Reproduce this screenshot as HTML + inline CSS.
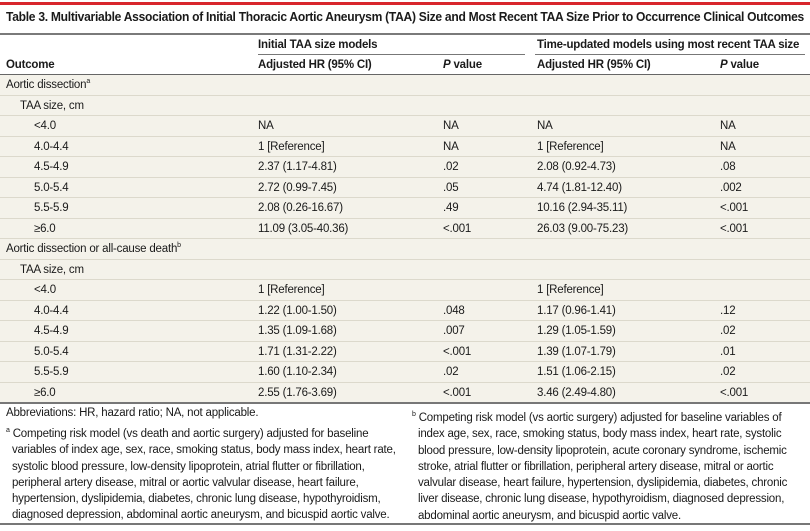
<!DOCTYPE html>
<html><head><meta charset="utf-8">
<style>
body{margin:0;background:#fff;}
#t{position:relative;width:810px;height:531px;font-family:"Liberation Sans",sans-serif;color:#1a1a1a;overflow:hidden;}
.a{position:absolute;white-space:nowrap;}
.txt{font-size:11.5px;letter-spacing:-0.2px;line-height:14px;}
.b{font-weight:bold;}
.row{position:absolute;left:0;width:810px;height:20px;border-bottom:1px solid #dcd9cc;background:#f4f2ea;}
sup{font-size:7px;vertical-align:5px;line-height:0;}
</style></head><body>
<div id="t">
<div class="a" style="left:0;top:2px;width:810px;height:3px;background:#d8262c"></div>
<div id="title" class="a b" style="left:6px;top:9px;font-size:13px;letter-spacing:-0.3px;transform-origin:0 0">Table 3. Multivariable Association of Initial Thoracic Aortic Aneurysm (TAA) Size and Most Recent TAA Size Prior to Occurrence Clinical Outcomes</div>
<div class="a" style="left:0;top:33px;width:810px;height:2px;background:#7a7a7a"></div>
<div class="a txt b" style="left:258px;top:38px">Initial TAA size models</div>
<div class="a" style="left:258px;top:54px;width:267px;height:1px;background:#777"></div>
<div class="a txt b" style="left:537px;top:38px">Time-updated models using most recent TAA size</div>
<div class="a" style="left:535px;top:54px;width:270px;height:1px;background:#777"></div>
<div class="a txt b" style="left:6px;top:58px">Outcome</div>
<div class="a txt b" style="left:258px;top:58px">Adjusted HR (95% CI)</div>
<div class="a txt b" style="left:443px;top:58px"><i>P</i> value</div>
<div class="a txt b" style="left:537px;top:58px">Adjusted HR (95% CI)</div>
<div class="a txt b" style="left:720px;top:58px"><i>P</i> value</div>
<div class="a" style="left:0;top:74px;width:810px;height:1px;background:#666"></div>
<div id="body"></div>
<div class="a" style="left:0;top:402px;width:810px;height:2px;background:#777"></div>
<div class="a txt" style="left:6px;top:406px">Abbreviations: HR, hazard ratio; NA, not applicable.</div>
<div class="a txt" style="left:6px;top:426px;line-height:16.3px"><sup>a</sup> Competing risk model (vs death and aortic surgery) adjusted for baseline<br>&nbsp;&nbsp;variables of index age, sex, race, smoking status, body mass index, heart rate,<br>&nbsp;&nbsp;systolic blood pressure, low-density lipoprotein, atrial flutter or fibrillation,<br>&nbsp;&nbsp;peripheral artery disease, mitral or aortic valvular disease, heart failure,<br>&nbsp;&nbsp;hypertension, dyslipidemia, diabetes, chronic lung disease, hypothyroidism,<br>&nbsp;&nbsp;diagnosed depression, abdominal aortic aneurysm, and bicuspid aortic valve.</div>
<div class="a txt" style="left:412px;top:410px;line-height:16.3px"><sup>b</sup> Competing risk model (vs aortic surgery) adjusted for baseline variables of<br>&nbsp;&nbsp;index age, sex, race, smoking status, body mass index, heart rate, systolic<br>&nbsp;&nbsp;blood pressure, low-density lipoprotein, acute coronary syndrome, ischemic<br>&nbsp;&nbsp;stroke, atrial flutter or fibrillation, peripheral artery disease, mitral or aortic<br>&nbsp;&nbsp;valvular disease, heart failure, hypertension, dyslipidemia, diabetes, chronic<br>&nbsp;&nbsp;liver disease, chronic lung disease, hypothyroidism, diagnosed depression,<br>&nbsp;&nbsp;abdominal aortic aneurysm, and bicuspid aortic valve.</div>
<div class="a" style="left:0;top:523px;width:810px;height:2px;background:#777"></div>
</div>
<script>
const labels=["Aortic dissection<sup>a</sup>","TAA size, cm","&lt;4.0","4.0-4.4","4.5-4.9","5.0-5.4","5.5-5.9","≥6.0","Aortic dissection or all-cause death<sup>b</sup>","TAA size, cm","&lt;4.0","4.0-4.4","4.5-4.9","5.0-5.4","5.5-5.9","≥6.0"];
const indents=[0,1,2,2,2,2,2,2,0,1,2,2,2,2,2,2];
const initHR=["","","NA","1 [Reference]","2.37 (1.17-4.81)","2.72 (0.99-7.45)","2.08 (0.26-16.67)","11.09 (3.05-40.36)","","","1 [Reference]","1.22 (1.00-1.50)","1.35 (1.09-1.68)","1.71 (1.31-2.22)","1.60 (1.10-2.34)","2.55 (1.76-3.69)"];
const initP=["","","NA","NA",".02",".05",".49","&lt;.001","","","",".048",".007","&lt;.001",".02","&lt;.001"];
const updHR=["","","NA","1 [Reference]","2.08 (0.92-4.73)","4.74 (1.81-12.40)","10.16 (2.94-35.11)","26.03 (9.00-75.23)","","","1 [Reference]","1.17 (0.96-1.41)","1.29 (1.05-1.59)","1.39 (1.07-1.79)","1.51 (1.06-2.15)","3.46 (2.49-4.80)"];
const updP=["","","NA","NA",".08",".002","&lt;.001","&lt;.001","","","",".12",".02",".01",".02","&lt;.001"];
const title=document.getElementById('title');
const tw=title.getBoundingClientRect().width;
title.style.transform='scaleX('+(798/tw)+')';
const body=document.getElementById('body');
const rowH=20.5, top0=75;
labels.forEach((lab,i)=>{
  const r=document.createElement('div');
  r.className='row';
  r.style.top=(top0+i*rowH)+'px';
  r.style.height=(rowH-1)+'px';
  
  
  const cells=[[6+indents[i]*14,lab,'row-label'],[258,initHR[i],'initial-hr-cell'],[443,initP[i],'initial-p-cell'],[537,updHR[i],'updated-hr-cell'],[720,updP[i],'updated-p-cell']];
  cells.forEach(c=>{
    if(!c[1])return;
    const d=document.createElement('div');
    d.className='a txt';
    d.style.left=c[0]+'px';
    d.style.top='3px';
    d.innerHTML=c[1];
    
    
    r.appendChild(d);
  });
  body.appendChild(r);
});
</script>
</body></html>
